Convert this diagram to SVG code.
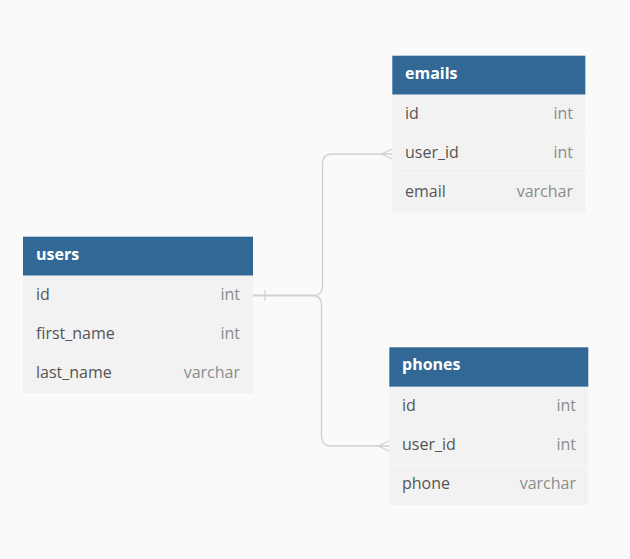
<svg xmlns="http://www.w3.org/2000/svg" width="630" height="559" viewBox="0 0 630 559">
<style>
.bg{fill:#fafafa}
.hdr{fill:#316896}
.row{fill:#f2f2f2}
.div{stroke:#f8f8f8;stroke-width:1}
.title{font-family:"Open Sans","Liberation Sans",sans-serif;font-size:16px;font-weight:bold;fill:#ffffff}
.name{font-family:"Open Sans","Liberation Sans",sans-serif;font-size:16px;fill:#555555}
.type{font-family:"Open Sans","Liberation Sans",sans-serif;font-size:16px;fill:#8c8c8c;text-anchor:end}
.conn{fill:none;stroke:#cfcfcf;stroke-width:1.3}
</style>
<rect class="bg" x="0" y="0" width="630" height="559"/>
<g id="connectors">
<path class="conn" d="M253 295.5 H313 Q322.5 295.5 322.5 286 V163.5 Q322.5 154 332 154 H392"/>
<path class="conn" d="M253 295.5 H312 Q321.5 295.5 321.5 305 V436.5 Q321.5 446 331 446 H389"/>
<path class="conn" d="M265 290.5 V300.5"/>
<path class="conn" d="M392 149 L381.5 154 L392 159"/>
<path class="conn" d="M389 441 L378.5 446 L389 451"/>
</g>
<g id="users">
<rect class="hdr" x="23" y="236.7" width="230" height="39"/>
<rect class="row" x="23" y="275.7" width="230" height="118"/>
<line class="div" x1="23" y1="315" x2="253" y2="315"/>
<line class="div" x1="23" y1="354.3" x2="253" y2="354.3"/>
<text class="title" x="36" y="259.5">users</text>
<text class="name" x="36" y="299.8">id</text><text class="type" x="240" y="299.8">int</text>
<text class="name" x="36" y="339">first_name</text><text class="type" x="240" y="339">int</text>
<text class="name" x="36" y="378.3">last_name</text><text class="type" x="240" y="378.3">varchar</text>
</g>
<g id="emails">
<rect class="hdr" x="392.3" y="55.7" width="193" height="39"/>
<rect class="row" x="392.3" y="94.7" width="193" height="118"/>
<line class="div" x1="392.3" y1="134" x2="585.3" y2="134"/>
<line class="div" x1="392.3" y1="173.3" x2="585.3" y2="173.3"/>
<text class="title" x="405" y="78.5">emails</text>
<text class="name" x="405" y="118.5">id</text><text class="type" x="573" y="118.5">int</text>
<text class="name" x="405" y="157.8">user_id</text><text class="type" x="573" y="157.8">int</text>
<text class="name" x="405" y="197.2">email</text><text class="type" x="573" y="197.2">varchar</text>
</g>
<g id="phones">
<rect class="hdr" x="389.3" y="347.3" width="199" height="39.5"/>
<rect class="row" x="389.3" y="386.8" width="199" height="118"/>
<line class="div" x1="389.3" y1="426.2" x2="588.3" y2="426.2"/>
<line class="div" x1="389.3" y1="465.5" x2="588.3" y2="465.5"/>
<text class="title" x="402" y="370.3">phones</text>
<text class="name" x="402" y="410.5">id</text><text class="type" x="576" y="410.5">int</text>
<text class="name" x="402" y="449.8">user_id</text><text class="type" x="576" y="449.8">int</text>
<text class="name" x="402" y="489.2">phone</text><text class="type" x="576" y="489.2">varchar</text>
</g>
</svg>
